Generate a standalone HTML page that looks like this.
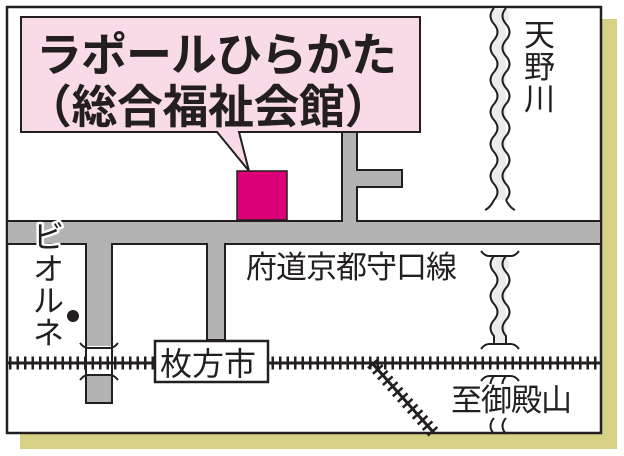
<!DOCTYPE html>
<html><head><meta charset="utf-8"><style>
html,body{margin:0;padding:0;background:#fff;}
svg{display:block;}
text{font-family:"Liberation Sans","Noto Sans CJK JP",sans-serif;fill:#231f20;}
</style></head><body>
<svg width="624" height="456" viewBox="0 0 624 456" xmlns="http://www.w3.org/2000/svg">
<rect x="20" y="19" width="597" height="430" fill="#d6d184"/>
<rect x="7" y="7" width="594" height="426" fill="#fff" stroke="#231f20" stroke-width="2.5"/>
<g fill="#b3b3b3" stroke="#231f20" stroke-width="2">
<path d="M7,221 H342 V132 H357 V170 H402 V187 H357 V221 H601 V244 H225 V340 H207 V244 H112 V403 H86 V244 H7 Z"/>
</g>
<rect x="87" y="346" width="24" height="28" fill="#fff"/>
<path d="M80,343 q4,5 8,5 h22 q4,0 8,-5 M80,380 q4,-5 8,-5 h22 q4,0 8,5" fill="none" stroke="#231f20" stroke-width="2"/>
<rect x="237" y="171" width="50" height="49" fill="#dc0078" stroke="#231f20" stroke-width="1.5"/>
<path d="M21,17 H420 V132 H239 L249,171 L217,132 H21 Z" fill="#f8dbe7" stroke="#231f20" stroke-width="2"/>
<text x="36" y="71" font-size="46" font-weight="bold" letter-spacing="-1">ラポールひらかた</text>
<text x="26" y="123" font-size="46" font-weight="bold" letter-spacing="-0.5">（総合福祉会館）</text>
<g fill="#ececec" stroke="#231f20" stroke-width="2">
<path d="M494,8 q-7,8 0,16 t0,16 t0,16 t0,16 t0,16 t0,16 t0,16 t0,16 t0,16 t0,16 t0,16 t0,16 L506,200 t0,-16 t0,-16 t0,-16 t0,-16 t0,-16 t0,-16 t0,-16 t0,-16 t0,-16 t0,-16 t0,-16 Q513,16 506,8 Z" stroke="none"/>
<path d="M494,8 q-7,8 0,16 t0,16 t0,16 t0,16 t0,16 t0,16 t0,16 t0,16 t0,16 t0,16 t0,16 t0,16" fill="none"/>
<path d="M506,8 q-7,8 0,16 t0,16 t0,16 t0,16 t0,16 t0,16 t0,16 t0,16 t0,16 t0,16 t0,16 t0,16" fill="none"/>
<path d="M494,200 q-4,8 -9,10 M506,200 q4,8 9,10" fill="none"/>
<path d="M494,256 q-7,8 0,16 t0,16 t0,16 t0,16 t0,16 L494,344 H506 V336 t0,-16 t0,-16 t0,-16 t0,-16 Q513,264 506,256 Z" stroke="none"/>
<path d="M494,256 q-7,8 0,16 t0,16 t0,16 t0,16 t0,16 V344" fill="none"/>
<path d="M506,256 q-7,8 0,16 t0,16 t0,16 t0,16 t0,16 V344" fill="none"/>
<path d="M481,251 q4,5 8,5 h22 q4,0 8,-5 M481,349 q4,-5 8,-5 h22 q4,0 8,5" fill="none"/>
<path d="M481,381 q4,-5 8,-5 h22 q4,0 8,5" fill="none"/>
<path d="M494,376 q-7,8 0,16 M506,376 q-7,8 0,16 M494,418 q-7,8 0,16 M506,418 q-7,8 0,16" fill="none"/>
</g>
<g stroke="#231f20">
<line x1="7" y1="363" x2="601" y2="363" stroke-width="3"/>
<line x1="9" y1="363" x2="601" y2="363" stroke-width="13" stroke-dasharray="2.5 5"/>
<line x1="372" y1="363" x2="434" y2="433" stroke-width="3"/>
<line x1="372" y1="363" x2="434" y2="433" stroke-width="13" stroke-dasharray="2.5 5"/>
</g>
<rect x="155" y="341" width="113" height="41" fill="#fff" stroke="#231f20" stroke-width="2.5"/>
<text x="160" y="375" font-size="32">枚方市</text>
<rect x="450" y="384" width="133" height="30" fill="#fff"/>
<text x="451" y="411" font-size="31" letter-spacing="-1">至御殿山</text>
<text x="246" y="278" font-size="31" letter-spacing="-1">府道京都守口線</text>
<g font-size="31">
<text x="524" y="46">天</text>
<text x="524" y="78">野</text>
<text x="524" y="110">川</text>
</g>
<g font-size="31" stroke="#fff" stroke-width="5" paint-order="stroke" style="stroke-linejoin:round">
<text x="33" y="248">ビ</text>
<text x="33" y="280">オ</text>
<text x="33" y="312">ル</text>
<text x="33" y="344">ネ</text>
</g>
<circle cx="73" cy="316" r="6" fill="#231f20"/>
</svg>
</body></html>
